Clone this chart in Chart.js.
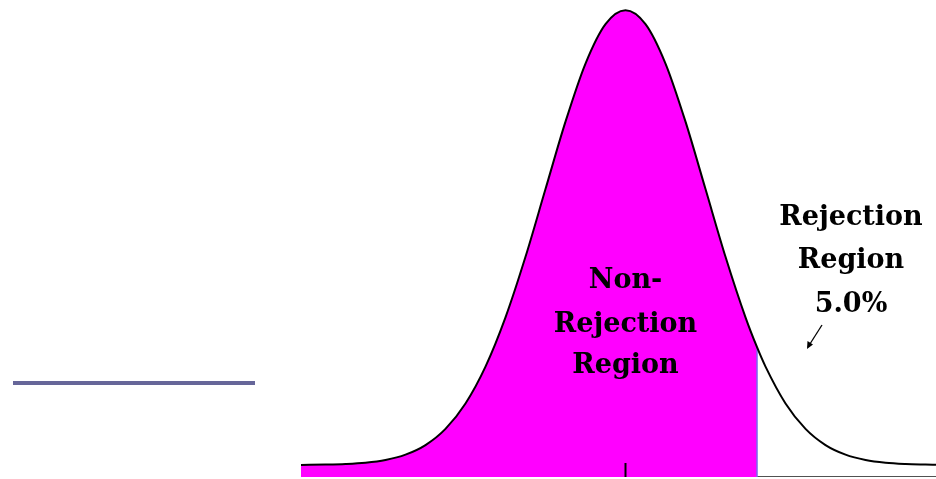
<!DOCTYPE html>
<html>
<head>
<meta charset="utf-8">
<script src="https://cdn.jsdelivr.net/npm/chart.js@4"></script>
<style>
  body { margin: 0; background: #fff; }
  #wrap { position: relative; width: 936px; height: 479px; }
  .bar { position: absolute; left: 13px; top: 381px; width: 242px; height: 4px; background: #666699; }
</style>
</head>
<body>
<div id="wrap">
  <div class="bar"></div>
  <canvas id="normChart" width="936" height="479"></canvas>
</div>
<script>
// z values along the curve and curve heights
let zVals = [-4.056, -3.75, -3.5, -3.25, -3.0, -2.75, -2.5, -2.25, -2.0, -1.75, -1.5, -1.25, -1.0, -0.75, -0.5, -0.25, 0, 0.25, 0.5, 0.75, 1.0, 1.25, 1.5, 1.644, 1.75, 2.0, 2.25, 2.5, 2.75, 3.0, 3.25, 3.5, 3.75, 3.881]
let heights = [0.0106, 0.0109, 0.0114, 0.0125, 0.0149, 0.0196, 0.0280, 0.0422, 0.0645, 0.0968, 0.1400, 0.1931, 0.2525, 0.3116, 0.3626, 0.3972, 0.4094, 0.3972, 0.3626, 0.3116, 0.2525, 0.1931, 0.1400, 0.1138, 0.0968, 0.0645, 0.0422, 0.0280, 0.0196, 0.0149, 0.0125, 0.0114, 0.0109, 0.0107]
let critZ = 1.644
let tickZ = 0

let curve = zVals.map((z, i) => ({ x: z, y: heights[i] }))
let accept = curve.filter(p => p.x <= critZ)
let critH = heights[zVals.indexOf(critZ)]

// labels drawn straight on the canvas
const labelsPlugin = {
  id: 'labels',
  afterDatasetsDraw(chart) {
    const c = chart.ctx
    c.save()
    c.fillStyle = '#000'
    c.textAlign = 'center'
    c.textBaseline = 'alphabetic'
    c.font = 'bold 27px "DejaVu Serif"'
    let cx = chart.scales.x.getPixelForValue(tickZ)
    c.fillText('Non-', cx, 288)
    c.fillText('Rejection', cx, 332)
    c.fillText('Region', cx, 373)
    c.fillText('Rejection', 851, 225)
    c.fillText('Region', 851, 268)
    c.fillText('5.0%', 851, 312)
    // little arrow
    c.strokeStyle = '#000'
    c.lineWidth = 1.3
    c.beginPath()
    c.moveTo(822, 325)
    c.lineTo(808, 347)
    c.stroke()
    c.beginPath()
    c.moveTo(807, 349)
    c.lineTo(807.5, 341)
    c.lineTo(813, 344.5)
    c.closePath()
    c.fillStyle = '#000'
    c.fill()
    c.restore()
  }
}

const ctx = document.getElementById('normChart').getContext('2d')
const normChart = new Chart(ctx, {
  type: 'line',
  data: {
    datasets: [
      {
        data: [{ x: zVals[0], y: 0 }, { x: zVals[zVals.length - 1], y: 0 }],
        borderColor: '#aaaaaa',
        borderWidth: 2,
        pointRadius: 0,
        order: 5
      },
      {
        data: accept,
        borderWidth: 0,
        backgroundColor: '#ff00ff',
        fill: 'origin',
        pointRadius: 0,
        cubicInterpolationMode: 'monotone',
        order: 4
      },
      {
        data: [{ x: critZ, y: 0 }, { x: zVals[zVals.length - 1], y: 0 }],
        borderColor: '#333333',
        borderWidth: 1.5,
        pointRadius: 0,
        order: 3
      },
      {
        data: [{ x: critZ, y: 0 }, { x: critZ, y: critH }],
        borderColor: '#7b68ee',
        borderWidth: 1.5,
        pointRadius: 0,
        order: 2
      },
      {
        data: curve,
        borderColor: '#000000',
        borderWidth: 2,
        fill: false,
        pointRadius: 0,
        cubicInterpolationMode: 'monotone',
        order: 1
      },
      {
        data: [{ x: tickZ, y: -0.001 }, { x: tickZ, y: 0.0123 }],
        borderColor: '#000000',
        borderWidth: 2,
        pointRadius: 0,
        order: 0
      }
    ]
  },
  options: {
    responsive: false,
    animation: false,
    layout: { padding: { left: 301, right: 0, top: 0, bottom: 2 } },
    plugins: { legend: { display: false }, tooltip: { enabled: false } },
    scales: {
      x: { type: 'linear', min: zVals[0], max: zVals[zVals.length - 1], display: false },
      y: { min: 0, max: 0.4183, display: false }
    }
  },
  plugins: [labelsPlugin]
})
</script>
</body>
</html>
